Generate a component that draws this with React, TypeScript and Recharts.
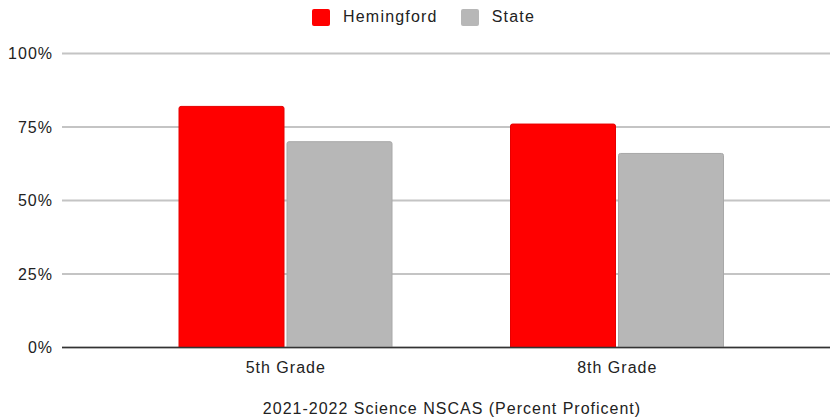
import React from "react";
import { BarChart, Bar, XAxis, YAxis, CartesianGrid, Label } from "recharts";

const categories = ["5th Grade", "8th Grade"];
const hemingford = [0.82, 0.76];
const state = [0.7, 0.66];
const yTicks = [0, 0.25, 0.5, 0.75, 1];
const seriesNames = ["Hemingford", "State"];
const seriesColors = ["#ff0000", "#b7b7b7"];
const title = "2021-2022 Science NSCAS (Percent Proficent)";

const data = categories.map((c, i) => ({ name: c, Hemingford: hemingford[i], State: state[i] }));

const FONT = "'Liberation Sans', Arial, sans-serif";

const LegendBox = () => (
  <div
    style={{
      position: "absolute",
      top: 8,
      left: 312,
      display: "flex",
      alignItems: "center",
      fontFamily: FONT,
      fontSize: 16,
      letterSpacing: 1.2,
      color: "#222",
      lineHeight: "18px",
    }}
  >
    {seriesNames.map((n, i) => (
      <div key={n} style={{ display: "flex", alignItems: "center", marginRight: i === 0 ? 23 : 0 }}>
        <div style={{ width: 18, height: 17, background: seriesColors[i], borderRadius: 2, marginRight: 13 }} />
        <span>{n}</span>
      </div>
    ))}
  </div>
);

export default function App() {
  return (
    <div style={{ position: "absolute", left: 0, top: 0, width: 830, height: 420, background: "#fff" }}>
      <BarChart
        width={830}
        height={420}
        data={data}
        margin={{ top: 53.5, right: 0, bottom: 0, left: 0 }}
        barGap={3}
        barSize={105}
      >
        <CartesianGrid vertical={false} stroke="#c4c4c4" strokeWidth={2} />
        <XAxis
          dataKey="name"
          padding={{ left: 58, right: 47 }}
          height={72.5}
          tickLine={false}
          axisLine={{ stroke: "#333", strokeWidth: 1.5 }}
          tickMargin={8}
          tick={{ fill: "#222", fontSize: 16, fontFamily: FONT, letterSpacing: 1 }}
        >
          <Label
            value={title}
            position="insideBottom"
            offset={6}
            dx={6}
            style={{ fill: "#222", fontSize: 16, fontFamily: FONT, letterSpacing: 1 }}
          />
        </XAxis>
        <YAxis
          domain={[0, 1]}
          ticks={yTicks}
          width={62}
          axisLine={false}
          tickLine={false}
          tickSize={0}
          tickMargin={9}
          tickFormatter={(v: number) => `${Math.round(v * 100)}%`}
          tick={{ fill: "#222", fontSize: 16, fontFamily: FONT, letterSpacing: 1 }}
        />
        <Bar dataKey="Hemingford" fill="#ff0000" stroke="#e60000" strokeWidth={1} radius={[2, 2, 0, 0]} isAnimationActive={false} />
        <Bar dataKey="State" fill="#b7b7b7" stroke="#a8a8a8" strokeWidth={1} radius={[2, 2, 0, 0]} isAnimationActive={false} />
      </BarChart>
      <LegendBox />
    </div>
  );
}
